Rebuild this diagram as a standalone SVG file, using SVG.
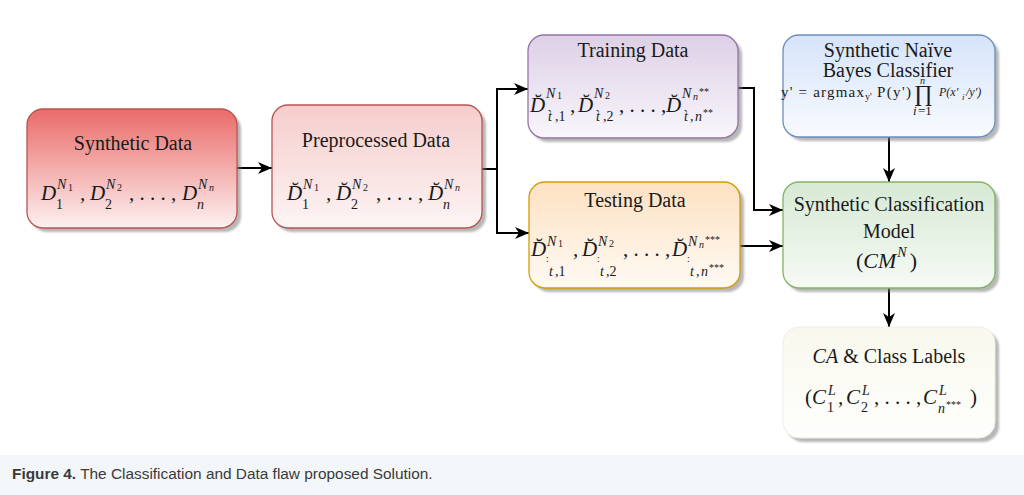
<svg xmlns="http://www.w3.org/2000/svg" width="1024" height="495" viewBox="0 0 1024 495">
<style>
.t{font-family:"Liberation Serif","Times New Roman",serif;font-size:20px;fill:#1a1a1a;text-anchor:middle}
.m{font-family:"Liberation Serif","DejaVu Serif",serif;font-style:italic;font-size:21px;fill:#1a1a1a}
.u{font-style:normal}
.s{font-size:14px}
.ss{font-size:10px}
.conn{fill:none;stroke:#000;stroke-width:2}
.sh{fill:#7d7d7d;opacity:.55;filter:url(#blur)}
.cap{font-family:"Liberation Sans",Arial,sans-serif;font-size:15.4px;fill:#3a3a3a}
</style>
<defs>
<filter id="blur" x="-10%" y="-10%" width="120%" height="120%"><feGaussianBlur stdDeviation="1.2"/></filter>
<linearGradient id="gRed" x1="0" y1="0" x2="0" y2="1"><stop offset="0" stop-color="#e96b68"/><stop offset="1" stop-color="#fdf1f1"/></linearGradient>
<linearGradient id="gPink" x1="0" y1="0" x2="0" y2="1"><stop offset="0" stop-color="#f5cdcc"/><stop offset="1" stop-color="#fdf4f4"/></linearGradient>
<linearGradient id="gPurple" x1="0" y1="0" x2="0" y2="1"><stop offset="0" stop-color="#ddd0e6"/><stop offset="1" stop-color="#f8f6fb"/></linearGradient>
<linearGradient id="gOrange" x1="0" y1="0" x2="0" y2="1"><stop offset="0" stop-color="#fde1c2"/><stop offset="1" stop-color="#fffaf4"/></linearGradient>
<linearGradient id="gBlue" x1="0" y1="0" x2="0" y2="1"><stop offset="0" stop-color="#d5e4fa"/><stop offset="1" stop-color="#f8fafe"/></linearGradient>
<linearGradient id="gGreen" x1="0" y1="0" x2="0" y2="1"><stop offset="0" stop-color="#d6e9d4"/><stop offset="1" stop-color="#f6faf5"/></linearGradient>
<linearGradient id="gCream" x1="0" y1="0" x2="0" y2="1"><stop offset="0" stop-color="#f9f8ee"/><stop offset="1" stop-color="#fefefc"/></linearGradient>
<marker id="arr" markerWidth="15" markerHeight="12" refX="14" refY="6" orient="auto" markerUnits="userSpaceOnUse"><path d="M0,0 L14,6 L0,12 L4,6 Z" fill="#000"/></marker>
</defs>
<rect x="0" y="0" width="1024" height="495" fill="#fff"/>
<rect x="0" y="455" width="1024" height="40" fill="#f3f6f8"/>
<text class="cap" x="12" y="479"><tspan font-weight="bold">Figure 4.</tspan> The Classification and Data flaw proposed Solution.</text>

<g id="connectors">
<path class="conn" d="M237,168 H272" marker-end="url(#arr)"/>
<path class="conn" d="M482,169 H497"/>
<path class="conn" d="M497,169 V89 H528" marker-end="url(#arr)"/>
<path class="conn" d="M497,169 V233 H529" marker-end="url(#arr)"/>
<path class="conn" d="M738,88 H754 V210 H783" marker-end="url(#arr)"/>
<path class="conn" d="M740,246 H783" marker-end="url(#arr)"/>
<path class="conn" d="M889,137 V182" marker-end="url(#arr)"/>
<path class="conn" d="M889,288 V327" marker-end="url(#arr)"/>
</g>

<g id="synthetic-data">
<rect class="sh" x="31" y="113" width="210" height="119" rx="16"/>
<rect x="27" y="109" width="210" height="119" rx="16" fill="url(#gRed)" stroke="#b85450" stroke-width="1.3"/>
<text class="t" x="133" y="150">Synthetic Data</text>
<text class="m"><tspan x="41" y="200">D</tspan><tspan class="s" x="57" y="189">N</tspan><tspan class="ss u" x="68" y="191">1</tspan><tspan class="s u" x="56" y="209">1</tspan><tspan x="80" y="200">,</tspan><tspan x="90" y="200">D</tspan><tspan class="s" x="106" y="189">N</tspan><tspan class="ss u" x="117" y="191">2</tspan><tspan class="s u" x="105" y="209">2</tspan><tspan x="129" y="200" class="u">, . . . ,</tspan><tspan x="182" y="200">D</tspan><tspan class="s" x="198" y="189">N</tspan><tspan class="ss" x="209" y="191">n</tspan><tspan class="s" x="197" y="209">n</tspan></text>
</g>

<g id="preprocessed-data">
<rect class="sh" x="276" y="109" width="210" height="123" rx="16"/>
<rect x="272" y="105" width="210" height="123" rx="16" fill="url(#gPink)" stroke="#b85450" stroke-width="1.3"/>
<text class="t" x="376" y="147">Preprocessed Data</text>
<text class="m"><tspan x="287" y="200">D̆</tspan><tspan class="s" x="303" y="189">N</tspan><tspan class="ss u" x="314" y="191">1</tspan><tspan class="s u" x="302" y="209">1</tspan><tspan x="326" y="200">,</tspan><tspan x="336" y="200">D̆</tspan><tspan class="s" x="352" y="189">N</tspan><tspan class="ss u" x="363" y="191">2</tspan><tspan class="s u" x="351" y="209">2</tspan><tspan x="376" y="200" class="u">, . . . ,</tspan><tspan x="428" y="200">D̆</tspan><tspan class="s" x="444" y="189">N</tspan><tspan class="ss" x="455" y="191">n</tspan><tspan class="s" x="443" y="209">n</tspan></text>
</g>

<g id="training-data">
<rect class="sh" x="532" y="39" width="210" height="103" rx="16"/>
<rect x="528" y="35" width="210" height="103" rx="16" fill="url(#gPurple)" stroke="#9673a6" stroke-width="1.3"/>
<text class="t" x="633" y="57">Training Data</text>
<text class="m" style="font-size:21px"><tspan x="530" y="112">D̆</tspan><tspan class="s" x="546" y="98">N</tspan><tspan class="ss u" x="557" y="99">1</tspan><tspan class="s" x="548" y="121">t̀</tspan><tspan class="s u" x="555" y="121">,1</tspan><tspan x="570" y="112">,</tspan><tspan x="578" y="112">D̆</tspan><tspan class="s" x="594" y="98">N</tspan><tspan class="ss u" x="605" y="99">2</tspan><tspan class="s" x="596" y="121">t̀</tspan><tspan class="s u" x="603" y="121">,2</tspan><tspan x="619" y="112" class="u">, . . . ,</tspan><tspan x="666" y="112">D̆</tspan><tspan class="s" x="682" y="98">N</tspan><tspan class="ss" x="693" y="100">n</tspan><tspan class="ss u" x="699" y="95">**</tspan><tspan class="s" x="684" y="121">t̀</tspan><tspan class="s u" x="690" y="121">,</tspan><tspan class="s" x="695" y="121">n</tspan><tspan class="ss u" x="703" y="116">**</tspan></text>
</g>

<g id="testing-data">
<rect class="sh" x="533" y="186" width="211" height="106" rx="16"/>
<rect x="529" y="182" width="211" height="106" rx="16" fill="url(#gOrange)" stroke="#d79b00" stroke-width="1.3"/>
<text class="t" x="635" y="207">Testing Data</text>
<text class="m" style="font-size:21px"><tspan x="531" y="256">D̆</tspan><tspan class="s" x="547" y="246">N</tspan><tspan class="ss u" x="558" y="247">1</tspan><tspan class="ss u" x="546" y="262">:</tspan><tspan class="s" x="549" y="276">t</tspan><tspan class="s u" x="555" y="276">,1</tspan><tspan x="573" y="256">,</tspan><tspan x="582" y="256">D̆</tspan><tspan class="s" x="598" y="246">N</tspan><tspan class="ss u" x="609" y="247">2</tspan><tspan class="ss u" x="597" y="262">:</tspan><tspan class="s" x="600" y="276">t</tspan><tspan class="s u" x="606" y="276">,2</tspan><tspan x="623" y="256" class="u">, . . . ,</tspan><tspan x="672" y="256">D̆</tspan><tspan class="s" x="688" y="246">N</tspan><tspan class="ss" x="699" y="248">n</tspan><tspan class="ss u" x="705" y="243">***</tspan><tspan class="ss u" x="687" y="262">:</tspan><tspan class="s" x="690" y="276">t</tspan><tspan class="s u" x="696" y="276">,</tspan><tspan class="s" x="701" y="276">n</tspan><tspan class="ss u" x="709" y="271">***</tspan></text>
</g>

<g id="naive-bayes-classifier">
<rect class="sh" x="787" y="39" width="212" height="102" rx="16"/>
<rect x="783" y="35" width="212" height="102" rx="16" fill="url(#gBlue)" stroke="#6c8ebf" stroke-width="1.3"/>
<text class="t" x="888" y="57">Synthetic Naïve</text>
<text class="t" x="888" y="77">Bayes Classifier</text>
<text class="m u" style="font-size:15px"><tspan x="781" y="97" textLength="83" lengthAdjust="spacing">y' = argmax</tspan><tspan x="865" y="100" style="font-size:10px">y'</tspan><tspan x="877" y="97" textLength="34" lengthAdjust="spacing">P(y')</tspan><tspan x="914" y="101" style="font-size:23px">∏</tspan><tspan x="920" y="84" style="font-size:10px;font-style:italic">n</tspan><tspan x="913" y="115" style="font-size:13px;font-style:italic">i</tspan><tspan x="918" y="115" style="font-size:13px">=1</tspan><tspan x="939" y="96" style="font-size:12px;font-style:italic">P(x′</tspan><tspan x="962" y="100" style="font-size:9px;font-style:italic">i</tspan><tspan x="966" y="96" style="font-size:12px;font-style:italic">/y′)</tspan></text>
</g>

<g id="classification-model">
<rect class="sh" x="787" y="186" width="212" height="106" rx="16"/>
<rect x="783" y="182" width="212" height="106" rx="16" fill="url(#gGreen)" stroke="#82b366" stroke-width="1.3"/>
<text class="t" x="889" y="211">Synthetic Classification</text>
<text class="t" x="889" y="238">Model</text>
<text class="m" style="font-size:22px"><tspan x="856" y="268" class="u">(</tspan><tspan>CM</tspan><tspan class="s" dx="1" dy="-11">N</tspan><tspan class="u" dx="3" dy="11">)</tspan></text>
</g>

<g id="class-labels">
<rect class="sh" x="787" y="331" width="212" height="111" rx="16"/>
<rect x="783" y="327" width="212" height="111" rx="16" fill="url(#gCream)" stroke="#eeeee4" stroke-width="1"/>
<text class="t" x="889" y="363"><tspan style="font-style:italic">CA</tspan> &amp; Class Labels</text>
<text class="m"><tspan x="805" y="404" class="u">(</tspan><tspan x="812" y="404">C</tspan><tspan class="s" x="828" y="395">L</tspan><tspan class="s u" x="827" y="412">1</tspan><tspan x="838" y="404">,</tspan><tspan x="846" y="404">C</tspan><tspan class="s" x="862" y="395">L</tspan><tspan class="s u" x="861" y="412">2</tspan><tspan x="874" y="404" class="u">, . . . ,</tspan><tspan x="923" y="404">C</tspan><tspan class="s" x="939" y="395">L</tspan><tspan class="s" x="938" y="413">n</tspan><tspan class="ss u" x="946" y="408">***</tspan><tspan x="970" y="404" class="u">)</tspan></text>
</g>
</svg>
